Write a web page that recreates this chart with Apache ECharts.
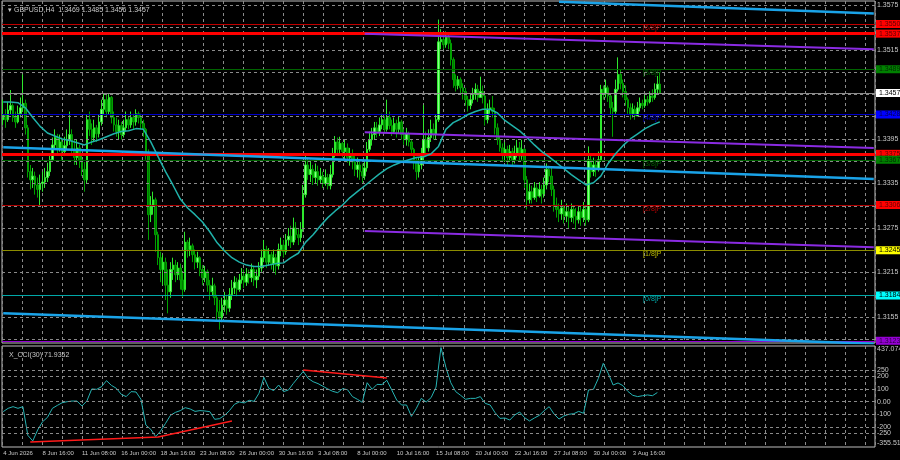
<!DOCTYPE html>
<html><head><meta charset="utf-8">
<script src="https://cdn.jsdelivr.net/npm/echarts@6/dist/echarts.min.js"></script>
<style>html,body{margin:0;padding:0;background:#000;}#c{width:900px;height:460px;}</style>
</head><body><div id="c"></div>
<script>
// ---------------- DATA ----------------
const symbolTitle = 'GBPUSD,H4';
const lastOHLC = ['1.3469', '1.3485', '1.3456', '1.3457'];
const firstOpen = 1.3421;
const closes = [
1.3428,1.3421,1.3434,1.3440,1.3424,1.3418,1.3429,1.3437,1.3443,1.3410,
1.3351,1.3340,1.3345,1.3333,1.3327,1.3335,1.3337,1.3343,1.3351,1.3367,
1.3387,1.3397,1.3383,1.3391,1.3378,1.3386,1.3394,1.3401,1.3381,1.3370,
1.3383,1.3367,1.3354,1.3340,1.3421,1.3408,1.3397,1.3410,1.3402,1.3418,
1.3435,1.3448,1.3432,1.3451,1.3424,1.3414,1.3405,1.3413,1.3401,1.3410,
1.3421,1.3414,1.3424,1.3418,1.3429,1.3424,1.3416,1.3408,1.3374,1.3293,
1.3306,1.3313,1.3266,1.3235,1.3219,1.3229,1.3198,1.3189,1.3219,1.3225,
1.3212,1.3221,1.3205,1.3192,1.3256,1.3246,1.3251,1.3239,1.3229,1.3235,
1.3219,1.3208,1.3216,1.3198,1.3189,1.3197,1.3181,1.3162,1.3154,1.3171,
1.3178,1.3167,1.3185,1.3194,1.3202,1.3192,1.3205,1.3210,1.3202,1.3213,
1.3208,1.3219,1.3205,1.3210,1.3221,1.3235,1.3246,1.3229,1.3239,1.3227,
1.3235,1.3224,1.3246,1.3252,1.3243,1.3259,1.3264,1.3256,1.3275,1.3266,
1.3262,1.3273,1.3320,1.3360,1.3347,1.3354,1.3343,1.3351,1.3340,1.3345,
1.3335,1.3343,1.3332,1.3347,1.3374,1.3391,1.3381,1.3389,1.3378,1.3383,
1.3370,1.3375,1.3364,1.3354,1.3360,1.3351,1.3345,1.3356,1.3381,1.3394,
1.3401,1.3410,1.3405,1.3414,1.3421,1.3408,1.3424,1.3413,1.3405,1.3416,
1.3408,1.3418,1.3401,1.3394,1.3402,1.3391,1.3381,1.3364,1.3351,1.3360,
1.3374,1.3394,1.3383,1.3397,1.3408,1.3401,1.3421,1.3526,1.3529,1.3522,
1.3532,1.3524,1.3502,1.3475,1.3467,1.3475,1.3464,1.3459,1.3448,1.3440,
1.3448,1.3455,1.3462,1.3451,1.3459,1.3453,1.3421,1.3435,1.3437,1.3432,
1.3410,1.3394,1.3383,1.3374,1.3381,1.3370,1.3378,1.3367,1.3375,1.3383,
1.3372,1.3381,1.3340,1.3313,1.3324,1.3316,1.3329,1.3318,1.3327,1.3321,
1.3333,1.3354,1.3345,1.3327,1.3306,1.3300,1.3294,1.3302,1.3291,1.3297,
1.3289,1.3300,1.3291,1.3286,1.3297,1.3289,1.3300,1.3286,1.3367,1.3351,
1.3360,1.3354,1.3367,1.3462,1.3456,1.3464,1.3453,1.3437,1.3432,1.3462,
1.3482,1.3470,1.3459,1.3448,1.3437,1.3429,1.3435,1.3426,1.3437,1.3443,
1.3440,1.3448,1.3445,1.3453,1.3451,1.3462,1.3469,1.3457];
const highs = [
1.3448,1.3435,1.3445,1.3461,1.3443,1.3432,1.3440,1.3451,1.3482,1.3448,
1.3414,1.3360,1.3356,1.3351,1.3343,1.3347,1.3351,1.3356,1.3363,1.3374,
1.3397,1.3408,1.3402,1.3401,1.3397,1.3398,1.3408,1.3432,1.3408,1.3394,
1.3394,1.3387,1.3374,1.3364,1.3428,1.3432,1.3416,1.3421,1.3414,1.3428,
1.3448,1.3457,1.3455,1.3457,1.3453,1.3432,1.3424,1.3421,1.3418,1.3421,
1.3432,1.3426,1.3432,1.3429,1.3435,1.3432,1.3429,1.3421,1.3410,1.3381,
1.3318,1.3324,1.3316,1.3270,1.3243,1.3239,1.3235,1.3219,1.3229,1.3235,
1.3232,1.3229,1.3227,1.3216,1.3270,1.3259,1.3262,1.3254,1.3246,1.3243,
1.3237,1.3225,1.3224,1.3219,1.3205,1.3208,1.3200,1.3185,1.3178,1.3181,
1.3189,1.3185,1.3194,1.3205,1.3210,1.3208,1.3213,1.3221,1.3219,1.3221,
1.3219,1.3227,1.3224,1.3219,1.3229,1.3246,1.3259,1.3251,1.3248,1.3243,
1.3246,1.3240,1.3254,1.3262,1.3259,1.3267,1.3275,1.3278,1.3289,1.3283,
1.3275,1.3283,1.3333,1.3374,1.3370,1.3367,1.3360,1.3362,1.3359,1.3356,
1.3351,1.3354,1.3348,1.3360,1.3383,1.3399,1.3397,1.3398,1.3391,1.3394,
1.3389,1.3383,1.3381,1.3372,1.3370,1.3367,1.3362,1.3367,1.3391,1.3405,
1.3410,1.3418,1.3418,1.3424,1.3429,1.3426,1.3448,1.3432,1.3421,1.3424,
1.3421,1.3426,1.3421,1.3408,1.3410,1.3405,1.3394,1.3383,1.3370,1.3370,
1.3383,1.3441,1.3405,1.3408,1.3421,1.3416,1.3428,1.3556,1.3543,1.3538,
1.3540,1.3537,1.3529,1.3505,1.3482,1.3480,1.3478,1.3470,1.3464,1.3453,
1.3456,1.3464,1.3470,1.3468,1.3479,1.3467,1.3455,1.3443,1.3448,1.3453,
1.3437,1.3416,1.3399,1.3389,1.3391,1.3386,1.3387,1.3383,1.3386,1.3394,
1.3391,1.3394,1.3383,1.3345,1.3335,1.3332,1.3337,1.3335,1.3337,1.3333,
1.3343,1.3362,1.3359,1.3356,1.3332,1.3316,1.3308,1.3313,1.3305,1.3308,
1.3305,1.3308,1.3305,1.3302,1.3306,1.3305,1.3310,1.3305,1.3385,1.3374,
1.3370,1.3367,1.3378,1.3468,1.3467,1.3475,1.3467,1.3456,1.3445,1.3475,
1.3505,1.3489,1.3475,1.3467,1.3451,1.3443,1.3443,1.3440,1.3445,1.3451,
1.3448,1.3455,1.3453,1.3459,1.3462,1.3470,1.3480,1.3485];
const lows = [
1.3414,1.3410,1.3418,1.3428,1.3418,1.3410,1.3416,1.3424,1.3432,1.3401,
1.3343,1.3327,1.3329,1.3320,1.3316,1.3306,1.3324,1.3329,1.3337,1.3345,
1.3364,1.3381,1.3374,1.3378,1.3367,1.3372,1.3381,1.3387,1.3372,1.3360,
1.3360,1.3356,1.3345,1.3324,1.3335,1.3399,1.3387,1.3391,1.3391,1.3397,
1.3413,1.3428,1.3424,1.3428,1.3416,1.3405,1.3398,1.3394,1.3394,1.3397,
1.3405,1.3408,1.3410,1.3408,1.3413,1.3416,1.3408,1.3398,1.3367,1.3259,
1.3283,1.3293,1.3243,1.3225,1.3202,1.3198,1.3178,1.3160,1.3181,1.3205,
1.3202,1.3205,1.3192,1.3182,1.3189,1.3235,1.3237,1.3229,1.3219,1.3221,
1.3210,1.3198,1.3202,1.3189,1.3178,1.3183,1.3171,1.3151,1.3138,1.3148,
1.3162,1.3158,1.3162,1.3178,1.3186,1.3183,1.3189,1.3200,1.3194,1.3197,
1.3200,1.3202,1.3197,1.3194,1.3205,1.3216,1.3229,1.3221,1.3224,1.3219,
1.3216,1.3212,1.3219,1.3237,1.3235,1.3239,1.3251,1.3248,1.3252,1.3259,
1.3252,1.3256,1.3270,1.3316,1.3340,1.3337,1.3333,1.3335,1.3332,1.3335,
1.3329,1.3332,1.3327,1.3327,1.3343,1.3370,1.3375,1.3374,1.3370,1.3367,
1.3363,1.3359,1.3354,1.3345,1.3343,1.3340,1.3336,1.3340,1.3351,1.3378,
1.3386,1.3394,1.3397,1.3399,1.3408,1.3402,1.3405,1.3408,1.3399,1.3402,
1.3397,1.3402,1.3394,1.3387,1.3386,1.3385,1.3372,1.3354,1.3340,1.3343,
1.3354,1.3367,1.3374,1.3378,1.3391,1.3394,1.3394,1.3418,1.3516,1.3516,
1.3518,1.3516,1.3494,1.3464,1.3459,1.3462,1.3456,1.3448,1.3440,1.3432,
1.3435,1.3443,1.3448,1.3445,1.3451,1.3443,1.3413,1.3416,1.3429,1.3424,
1.3401,1.3387,1.3378,1.3367,1.3364,1.3360,1.3364,1.3359,1.3362,1.3370,
1.3364,1.3367,1.3329,1.3300,1.3308,1.3308,1.3313,1.3310,1.3316,1.3308,
1.3316,1.3327,1.3337,1.3318,1.3297,1.3289,1.3283,1.3286,1.3281,1.3283,
1.3275,1.3283,1.3281,1.3273,1.3281,1.3278,1.3283,1.3278,1.3283,1.3343,
1.3345,1.3344,1.3351,1.3364,1.3448,1.3451,1.3445,1.3428,1.3398,1.3429,
1.3459,1.3462,1.3451,1.3440,1.3429,1.3421,1.3424,1.3421,1.3426,1.3432,
1.3435,1.3437,1.3440,1.3443,1.3445,1.3448,1.3456,1.3456];

// moving average read every 3 bars
const MA_STEP = 3;
const maValues = [
1.3445,1.3445,1.3444,1.3437,1.3424,1.3412,1.3403,1.3399,1.3395,1.3393,
1.3390,1.3387,1.3391,1.3394,1.3398,1.3402,1.3405,1.3406,1.3409,1.3408,
1.3391,1.3371,1.3351,1.3333,1.3314,1.3302,1.3293,1.3283,1.3270,1.3255,
1.3244,1.3235,1.3229,1.3225,1.3223,1.3223,1.3225,1.3227,1.3228,1.3235,
1.3241,1.3256,1.3266,1.3278,1.3289,1.3298,1.3306,1.3316,1.3324,1.3332,
1.3340,1.3348,1.3355,1.3360,1.3364,1.3367,1.3370,1.3371,1.3375,1.3385,
1.3408,1.3417,1.3422,1.3428,1.3432,1.3435,1.3435,1.3430,1.3420,1.3413,
1.3406,1.3397,1.3387,1.3378,1.3371,1.3363,1.3355,1.3347,1.3340,1.3333,
1.3336,1.3345,1.3362,1.3375,1.3386,1.3395,1.3402,1.3409,1.3414,1.3418];

// CCI(30) read every 2 bars
const CCI_STEP = 2;
const cciName = 'X_CCI(30) 71.9352';
const cciValues = [
-78,-52,-39,-52,-39,-264,-308,-222,-157,-123,
-52,-29,-8,0,5,5,-34,5,100,97,
118,165,128,105,58,40,79,76,19,-183,
-217,-274,-230,-170,-107,-84,-70,-47,-57,-76,
-70,-73,-78,-138,-133,-107,-70,-21,-2,-10,
11,3,66,191,105,87,131,79,92,144,
191,238,183,157,142,121,100,81,71,102,
94,40,19,-5,149,97,136,134,168,92,
13,-26,-26,-115,-52,26,-2,32,115,425,
270,149,79,50,19,26,26,40,-13,-26,
-86,-131,-128,-144,-104,-81,-125,-151,-128,-107,
-70,-39,-97,-136,-112,-99,-94,-76,-91,92,
97,183,301,223,131,147,126,81,50,40,
47,53,47,72];
const cciMax = 437.0745, cciMin = -355.513;
const cciLevels = [250, 200, 100, 0, -100, -200, -250];
const cciLevelLabels = ['250', '200', '100', '0.00', '-100', '-200', '-250'];
const cciDivLow = [[11, -316], [63, -277], [93, -152]];
const cciDivHigh = [[122, 249], [156, 186]];

// axis / time
const SLOT_COUNT = 355;
const LABEL_EVERY = 16;
const xTickLabels = ['4 Jun 2026','8 Jun 16:00','11 Jun 08:00','16 Jun 00:00','18 Jun 16:00','23 Jun 08:00',
  '26 Jun 00:00','30 Jun 16:00','3 Jul 08:00','8 Jul 00:00','10 Jul 16:00','15 Jul 08:00','20 Jul 00:00',
  '22 Jul 16:00','27 Jul 08:00','30 Jul 00:00','3 Aug 16:00'];
const priceMin = 1.3120, priceMax = 1.3581;
const gridPrices = [1.3575,1.3545,1.3515,1.3485,1.3455,1.3425,1.3395,1.3365,1.3335,1.3305,1.3275,1.3245,1.3215,1.3185,1.3155,1.3125];
const shownPriceTicks = [1.3575,1.3515,1.3395,1.3335,1.3275,1.3215,1.3155];

// horizontal levels
const levelPrices = [1.3550, 1.3537, 1.3489, 1.3457, 1.3428, 1.3375, 1.3367, 1.3306, 1.3245, 1.3184, 1.3123];
const murreyPrices = [1.3550, 1.3489, 1.3428, 1.3367, 1.3306, 1.3245, 1.3184];
const murreyNames = ['[6/8]P','[5/8]P','[4/8]P','[3/8]P','[2/8]P','[1/8]P','[0/8]P'];
const murreyBar = 260;

// trend lines [bar index, price]
const channelTop = [[226, 1.3580], [354, 1.3564]];
const channelMid = [[0, 1.3384], [354, 1.3341]];
const channelBot = [[0, 1.3160], [354, 1.3119]];
const purpleTop = [[147, 1.3537], [354, 1.3516]];
const purpleMid = [[147, 1.3404], [354, 1.3383]];
const purpleBot = [[147, 1.3271], [354, 1.3249]];

// ---------------- STYLES ----------------
const FONT = '"Liberation Sans",Arial,sans-serif';
const TXT = '#c8c8c8';
const GRIDC = '#8a8a8a';
const levelStyles = [
  {c:'#c00000', w:1, bg:'#ff0000', t:'#600000'},
  {c:'#ff0000', w:3, bg:'#ff0000', t:'#600000'},
  {c:'#006400', w:1, bg:'#008000', t:'#002a00'},
  {c:'#8c8c8c', w:1, bg:'#ffffff', t:'#000000'},
  {c:'#0000c8', w:1, bg:'#0000ff', t:'#000050'},
  {c:'#ff0000', w:3, bg:'#ff0000', t:'#600000'},
  {c:'#006400', w:1, bg:'#008000', t:'#002a00'},
  {c:'#b00000', w:1, bg:'#ff0000', t:'#600000'},
  {c:'#8c8c00', w:1, bg:'#ffff00', t:'#000000'},
  {c:'#00a8a8', w:1, bg:'#00ffff', t:'#000000'},
  {c:'#9400d3', w:1, bg:'#9400d3', t:'#2a0040'}
];
const murreyColors = ['#e00000','#007a00','#0000ff','#007a00','#e00000','#e0e000','#00d0d0'];

// ---------------- BUILD ----------------
const categories = Array.from({length: SLOT_COUNT}, (_, i) => String(i));
const candleData = closes.map((c, i) => [i === 0 ? firstOpen : closes[i - 1], c, lows[i], highs[i]]);
const maData = maValues.map((v, k) => [k * MA_STEP, v]);
const cciData = cciValues.map((v, k) => [k * CCI_STEP, v]);
// label-only anchors for the indicator window's max/min captions (drawn just inside the frame)
const cciSpan = cciMax - cciMin;
const cciMaxAnchor = cciMax - cciSpan * 0.03;
const cciMinAnchor = cciMin + cciSpan * 0.04;

const chart = echarts.init(document.getElementById('c'), null, {renderer: 'canvas'});

function trend(data, color, width, z) {
  return {type:'line', xAxisIndex:0, yAxisIndex:0, data:data, symbol:'none', silent:true,
    lineStyle:{color:color, width:width}, z:z, animation:false};
}

const option = {
  backgroundColor: '#000000',
  animation: false,
  title: [
    {text: '\u25BE ' + symbolTitle + '  ' + lastOHLC.join(' '), left: 3, top: 2,
     textStyle: {color: TXT, fontSize: 7, fontWeight: 'normal', fontFamily: FONT}},
    {text: cciName, left: 4, top: 347,
     textStyle: {color: TXT, fontSize: 7, fontWeight: 'normal', fontFamily: FONT}}
  ],
  grid: [
    {left: 2, right: 25, top: 1, height: 342, show: true, borderColor: '#bdbdbd', borderWidth: 1, backgroundColor: 'transparent'},
    {left: 2, right: 25, top: 346, height: 101, show: true, borderColor: '#bdbdbd', borderWidth: 1, backgroundColor: 'transparent'}
  ],
  xAxis: [
    {type:'category', gridIndex:0, data:categories, boundaryGap:true,
     axisLine:{show:false}, axisTick:{show:false}, axisLabel:{show:false}, splitLine:{show:false}},
    {type:'category', gridIndex:1, data:categories, boundaryGap:true,
     axisLine:{show:false}, axisTick:{show:false}, splitLine:{show:false},
     axisLabel:{show:true, interval: LABEL_EVERY - 1, align:'left', margin:3, color:TXT, fontSize:6, fontFamily:FONT,
       formatter: function (v, idx) { return xTickLabels[Math.round(idx / LABEL_EVERY)] || ''; }}},
    {type:'value', gridIndex:0, min:0, max:43.48, interval:1,
     axisLine:{show:false}, axisTick:{show:false}, axisLabel:{show:false},
     splitLine:{show:true, lineStyle:{color:GRIDC, type:[3,3], width:1}}},
    {type:'value', gridIndex:1, min:0, max:43.48, interval:1,
     axisLine:{show:false}, axisTick:{show:false}, axisLabel:{show:false},
     splitLine:{show:true, lineStyle:{color:GRIDC, type:[3,3], width:1}}}
  ],
  yAxis: [
    {type:'value', gridIndex:0, min:priceMin, max:priceMax,
     axisLine:{show:false}, axisTick:{show:false}, axisLabel:{show:false}, splitLine:{show:false}},
    {type:'value', gridIndex:1, min:cciMin, max:cciMax,
     axisLine:{show:false}, axisTick:{show:false}, axisLabel:{show:false}, splitLine:{show:false}}
  ],
  series: [
    // horizontal dashed grid + price scale labels
    {type:'line', xAxisIndex:0, yAxisIndex:0, data:[], silent:true, z:1,
     markLine:{silent:true, symbol:['none','none'], animation:false, precision:4,
       lineStyle:{color:GRIDC, type:[3,3], width:1},
       label:{position:'end', distance:2, color:TXT, fontSize:7, fontFamily:FONT},
       data: gridPrices.map(p => ({yAxis:p, label:{formatter: shownPriceTicks.indexOf(p) >= 0 ? p.toFixed(4) : ''}}))}},
    // level lines
    {type:'line', xAxisIndex:0, yAxisIndex:0, data:[], silent:true, z:2,
     markLine:{silent:true, symbol:['none','none'], animation:false, precision:4,
       data: levelPrices.map((p, i) => ({yAxis:p,
         lineStyle:{color:levelStyles[i].c, width:levelStyles[i].w, type:'solid'},
         label:{show:true, position:'end', distance:1, formatter:p.toFixed(4), color:levelStyles[i].t,
           backgroundColor:levelStyles[i].bg, padding:[1,3,0,3], fontSize:7, fontFamily:FONT}}))}},
    // candles
    {type:'candlestick', xAxisIndex:0, yAxisIndex:0, data:candleData, barWidth:2, z:3, silent:true,
     itemStyle:{color:'#8cff8c', color0:'#007a00', borderColor:'#2ee82e', borderColor0:'#00a000', borderWidth:1}},
    // moving average
    {type:'line', xAxisIndex:0, yAxisIndex:0, data:maData, symbol:'none', smooth:false, silent:true,
     lineStyle:{color:'#20b2aa', width:1.5}, z:5},
    trend(channelTop, '#1aa3e8', 2.5, 6),
    trend(channelMid, '#1aa3e8', 2.5, 6),
    trend(channelBot, '#1aa3e8', 2.5, 6),
    trend(purpleTop, '#8a2be2', 2, 6),
    trend(purpleMid, '#8a2be2', 2, 6),
    trend(purpleBot, '#8a2be2', 2, 6),
    // murrey labels
    {type:'scatter', xAxisIndex:0, yAxisIndex:0, symbolSize:1, silent:true, z:7,
     itemStyle:{color:'rgba(0,0,0,0)'},
     data: murreyPrices.map((p, i) => ({value:[murreyBar, p],
       label:{show:true, position:'right', distance:0, offset:[0,4], formatter:murreyNames[i],
         color:murreyColors[i], fontSize:7, fontFamily:FONT}}))},
    // CCI grid levels + labels
    {type:'line', xAxisIndex:1, yAxisIndex:1, data:[], silent:true, z:1,
     markLine:{silent:true, symbol:['none','none'], animation:false, precision:4,
       lineStyle:{color:GRIDC, type:[3,3], width:1},
       label:{position:'end', distance:2, color:TXT, fontSize:7, fontFamily:FONT},
       data: cciLevels.map((v, i) => ({yAxis:v, label:{formatter:cciLevelLabels[i]}})).concat([
         {yAxis:cciMaxAnchor, lineStyle:{color:'rgba(0,0,0,0)', width:0}, label:{formatter:String(cciMax)}},
         {yAxis:cciMinAnchor, lineStyle:{color:'rgba(0,0,0,0)', width:0}, label:{formatter:String(cciMin)}}
       ])}},
    // CCI line
    {type:'line', xAxisIndex:1, yAxisIndex:1, data:cciData, symbol:'none', silent:true,
     lineStyle:{color:'#26b3b3', width:1}, z:4},
    {type:'line', xAxisIndex:1, yAxisIndex:1, data:cciDivLow, symbol:'none', silent:true,
     lineStyle:{color:'#ff1a1a', width:1.5}, z:5},
    {type:'line', xAxisIndex:1, yAxisIndex:1, data:cciDivHigh, symbol:'none', silent:true,
     lineStyle:{color:'#ff1a1a', width:1.5}, z:5}
  ]
};
chart.setOption(option);
</script>
</body></html>
